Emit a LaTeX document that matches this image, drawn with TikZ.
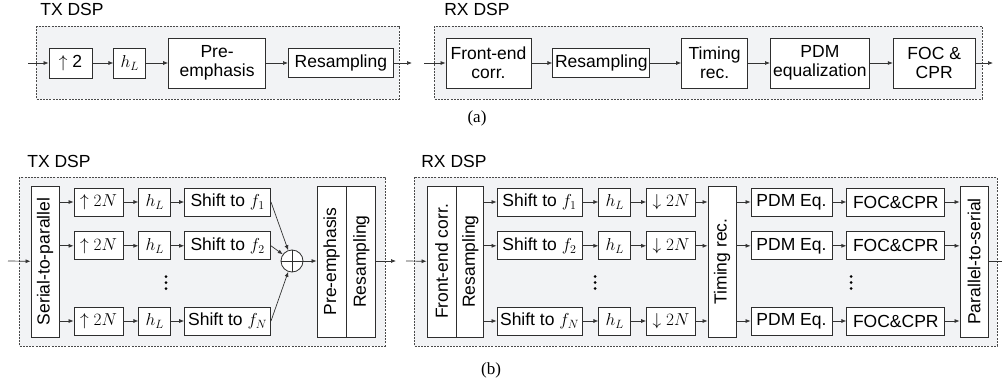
\documentclass[tikz,border=0pt]{standalone}
\usepackage{fontspec}
\setmainfont{Liberation Sans}
\newfontfamily\capfont{Liberation Serif}
\usetikzlibrary{arrows.meta,positioning}
\definecolor{dspfill}{HTML}{F2F3F5}
\definecolor{dspline}{HTML}{4A4A4A}
\definecolor{blkline}{HTML}{2E2E2E}

\begin{document}
\begin{tikzpicture}[x=1pt,y=-1pt,->,>={Latex[length=5pt,width=4pt]},line width=0.7pt,
  font=\fontsize{17.5}{19}\selectfont,node distance=22pt,
  every edge/.append style={draw=black!80},
  blk/.style={draw=blkline,fill=white,align=center,inner sep=0pt,minimum height=30pt,line width=0.8pt},
  big/.style={blk,minimum height=50pt},
  row/.style={blk,minimum height=28pt},
  tallblk/.style={blk,minimum width=28pt,minimum height=151pt},
  sumnode/.style={circle,draw=blkline,fill=white,minimum size=22pt,inner sep=0pt,line width=0.8pt},
  dspbox/.style={-,draw=dspline,fill=dspfill,dash pattern=on 2pt off 1.2pt,line width=0.8pt},
  lbl/.style={inner sep=0pt,anchor=base west},
  figcap/.style={inner sep=0pt,font=\capfont\fontsize{17}{19}\selectfont}]
\useasboundingbox (0,0) rectangle (1002,383);

% (a) single carrier
\draw[dspbox] (36,26) rectangle (399,99);
\draw[dspbox] (434,26) rectangle (982,99);
\node[lbl] (txa) at (40,15) {TX DSP};
\node[lbl] (rxa) at (444,15) {RX DSP};

\node[blk,minimum width=43pt] (up2) at (70.5,63) {$\uparrow$ 2};
\node[blk,minimum width=32pt,right=21pt of up2] (hl1) {$h_L$};
\node[big,minimum width=97pt,right=of hl1] (pre1) {Pre-\\emphasis};
\node[blk,minimum width=105pt,minimum height=29pt,right=of pre1] (res1) {Resampling};

\node[big,minimum width=85pt] (fec1) at (488.5,63) {Front-end\\corr.};
\node[blk,minimum width=97pt,minimum height=29pt,right=21pt of fec1] (res2) {Resampling};
\node[big,minimum width=66pt,right=31pt of res2] (tim1) {Timing\\rec.};
\node[big,minimum width=99pt,right=of tim1] (pdm1) {PDM\\equalization};
\node[big,minimum width=82pt,right=23pt of pdm1] (foc1) {FOC \&\\CPR};

\coordinate (txin1) at (28,63);
\coordinate (txout1) at (412,63);
\coordinate (rxin1) at (424,63);
\coordinate (rxout1) at (993,63);

\path (txin1) edge (up2)
      (up2) edge (hl1)
      (hl1) edge (pre1)
      (pre1) edge (res1)
      (res1) edge (txout1)
      (rxin1) edge (fec1)
      (fec1) edge (res2)
      (res2) edge (tim1)
      (tim1) edge (pdm1)
      (pdm1) edge (foc1)
      (foc1) edge (rxout1);

\node[figcap] (capa) at (477,118.5) {(a)};

% (b) multi-subcarrier
\draw[dspbox] (19,177) rectangle (385,346);
\draw[dspbox] (414,177) rectangle (997,346);
\node[lbl] (txb) at (27,167) {TX DSP};
\node[lbl] (rxb) at (421,167) {RX DSP};

% TX side
\node[tallblk] (s2p) at (45,261.5) {\rotatebox{90}{Serial-to-parallel}};

\node[row,minimum width=49pt] (upa) at (98.5,202) {$\uparrow 2N$};
\node[row,minimum width=32pt,right=15pt of upa] (hla) {$h_L$};
\node[row,minimum width=86pt,right=13pt of hla] (sha) {Shift to $f_1$};
\node[row,minimum width=49pt,below=15pt of upa] (upb) {$\uparrow 2N$};
\node[row,minimum width=32pt,right=15pt of upb] (hlb) {$h_L$};
\node[row,minimum width=86pt,right=13pt of hlb] (shb) {Shift to $f_2$};
\node[row,minimum width=49pt] (upn) at (98.5,321) {$\uparrow 2N$};
\node[row,minimum width=32pt,right=15pt of upn] (hln) {$h_L$};
\node[row,minimum width=86pt,right=13pt of hln] (shn) {Shift to $f_N$};

\node[sumnode] (sum) at (292,261) {};
\draw[-,blkline,line width=0.8pt] (sum.north) -- (sum.south) (sum.west) -- (sum.east);

\node[tallblk,minimum width=29pt] (pre2) at (331.5,261.5) {\rotatebox{90}{Pre-emphasis}};
\node[tallblk,minimum width=29pt,right=0pt of pre2] (res3) {\rotatebox{90}{Resampling}};

\coordinate (txin2) at (8,261);
\coordinate (txout2) at (396,261);

\path (txin2) edge (s2p)
      (s2p.east |- upa) edge (upa)
      (s2p.east |- upb) edge (upb)
      (s2p.east |- upn) edge (upn)
      (upa) edge (hla) (hla) edge (sha)
      (upb) edge (hlb) (hlb) edge (shb)
      (upn) edge (hln) (hln) edge (shn)
      (sha.east) edge (sum)
      (shb.east) edge (sum)
      (shn.east) edge (sum)
      (sum) edge (pre2.west |- sum)
      (res3.east |- txout2) edge (txout2);

% RX side
\node[tallblk,minimum width=29pt] (fec2) at (441.5,261.5) {\rotatebox{90}{Front-end corr.}};
\node[tallblk,minimum width=27pt,right=0pt of fec2] (res4) {\rotatebox{90}{Resampling}};

\node[row,minimum width=85pt] (rsa) at (539.5,202) {Shift to $f_1$};
\node[row,minimum width=32pt,right=16pt of rsa] (rha) {$h_L$};
\node[row,minimum width=49pt,right=15pt of rha] (dna) {$\downarrow 2N$};
\node[row,minimum width=85pt,below=15pt of rsa] (rsb) {Shift to $f_2$};
\node[row,minimum width=32pt,right=16pt of rsb] (rhb) {$h_L$};
\node[row,minimum width=49pt,right=15pt of rhb] (dnb) {$\downarrow 2N$};
\node[row,minimum width=85pt] (rsn) at (539.5,321) {Shift to $f_N$};
\node[row,minimum width=32pt,right=16pt of rsn] (rhn) {$h_L$};
\node[row,minimum width=49pt,right=15pt of rhn] (dnn) {$\downarrow 2N$};

\node[tallblk] (tim2) at (722,261.5) {\rotatebox{90}{Timing rec.}};

\node[row,minimum width=81pt] (pda) at (791.5,202) {PDM Eq.};
\node[row,minimum width=98pt,right=14pt of pda] (fca) {FOC\&CPR};
\node[row,minimum width=81pt,below=15pt of pda] (pdb) {PDM Eq.};
\node[row,minimum width=98pt,right=14pt of pdb] (fcb) {FOC\&CPR};
\node[row,minimum width=81pt] (pdn) at (791.5,321) {PDM Eq.};
\node[row,minimum width=98pt,right=14pt of pdn] (fcn) {FOC\&CPR};

\node[tallblk] (p2s) at (974,261.5) {\rotatebox{90}{Parallel-to-serial}};

\coordinate (rxin2) at (406,261);
\coordinate (rxout2) at (1002,261);

\path (rxin2) edge (fec2)
      (res4.east |- rsa) edge (rsa)
      (res4.east |- rsb) edge (rsb)
      (res4.east |- rsn) edge (rsn)
      (rsa) edge (rha) (rha) edge (dna)
      (rsb) edge (rhb) (rhb) edge (dnb)
      (rsn) edge (rhn) (rhn) edge (dnn)
      (dna) edge (tim2.west |- dna)
      (dnb) edge (tim2.west |- dnb)
      (dnn) edge (tim2.west |- dnn)
      (tim2.east |- pda) edge (pda)
      (tim2.east |- pdb) edge (pdb)
      (tim2.east |- pdn) edge (pdn)
      (pda) edge (fca) (pdb) edge (fcb) (pdn) edge (fcn)
      (fca) edge (p2s.west |- fca)
      (fcb) edge (p2s.west |- fcb)
      (fcn) edge (p2s.west |- fcn)
      (p2s.east |- rxout2) edge[-] (rxout2);

% vertical dots
\foreach \x in {166,595,851}
  \foreach \y in {276.5,282.5,288.5}
    \fill (\x,\y) circle (1.5pt);

\node[figcap] (capb) at (491,370) {(b)};
\end{tikzpicture}
\end{document}
